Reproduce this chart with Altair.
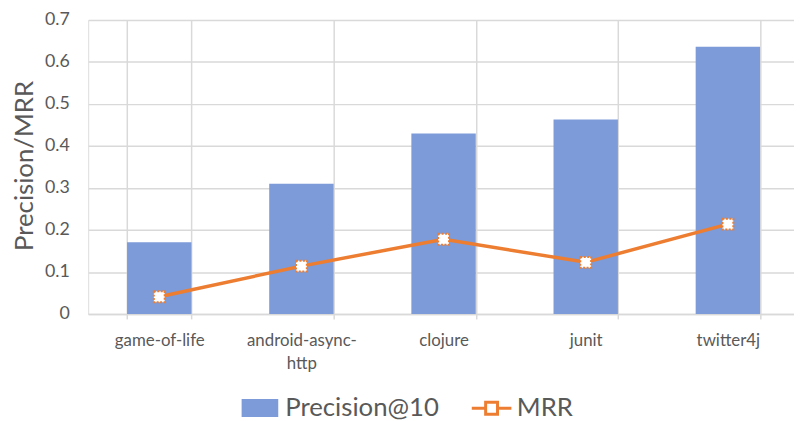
import altair as alt
import pandas as pd

projects = ["game-of-life", "android-async-http", "clojure", "junit", "twitter4j"]
precision = [0.171, 0.310, 0.430, 0.463, 0.636]
mrr = [0.041, 0.114, 0.178, 0.123, 0.214]
series_names = ["Precision@10", "MRR"]
y_ticks = [0, 0.1, 0.2, 0.3, 0.4, 0.5, 0.6, 0.7]

BLUE = "#7c9bd8"
ORANGE = "#ED7D31"
GRID = "#d9d9d9"
TEXT = "#595959"
FONT = "Lato"

bars_df = pd.DataFrame({"project": projects, "val": precision})
mrr_df = pd.DataFrame({"project": projects, "val": mrr})
legend_df = pd.DataFrame({"project": projects[:2], "val": [None, None], "series": series_names})

x_enc = alt.X(
    "project:N",
    sort=projects,
    scale=alt.Scale(range=[0, 718], paddingInner=0.547, paddingOuter=0.2735),
    axis=alt.Axis(
        title=None,
        labelAngle=0,
        tickBand="extent",
        grid=True,
        gridColor=GRID,
        gridWidth=1.5,
        domainColor=GRID,
        domainWidth=1.5,
        tickColor=GRID,
        tickWidth=1.5,
        tickSize=5,
        labelFontSize=17,
        labelColor=TEXT,
        labelFont=FONT,
        labelPadding=14,
        labelLineHeight=23,
        labelExpr="datum.value == 'android-async-http' ? ['android-async-', 'http'] : datum.label",
    ),
)

y_enc = alt.Y(
    "val:Q",
    scale=alt.Scale(domain=[0, 0.7], nice=False),
    axis=alt.Axis(
        values=y_ticks,
        format=".1~f",
        ticks=False,
        domain=False,
        grid=True,
        gridColor=GRID,
        gridWidth=1.5,
        labelFontSize=18,
        labelColor=TEXT,
        labelFont=FONT,
        labelPadding=19,
        title="Precision/MRR",
        titleFont=FONT,
        titleFontSize=26,
        titleFontWeight="normal",
        titleColor=TEXT,
        titleAngle=270,
        titleAlign="center",
        titleBaseline="alphabetic",
        titleX=-56,
        titleY=147,
    ),
)

bars = alt.Chart(bars_df).mark_bar(color=BLUE).encode(x=x_enc, y=y_enc)

line = alt.Chart(mrr_df).mark_line(color=ORANGE, strokeWidth=3.5).encode(
    x=alt.X("project:N", sort=projects), y="val:Q"
)

points = alt.Chart(mrr_df).mark_point(
    shape="square", size=120, filled=True, fill="white", stroke=ORANGE,
    strokeWidth=2, strokeDash=[2, 1.5], opacity=1
).encode(x=alt.X("project:N", sort=projects), y="val:Q")

leg = alt.Legend(
    title=None,
    orient="none",
    direction="horizontal",
    legendX=152,
    legendY=370,
    padding=0,
    symbolSize=1600,
    symbolStrokeWidth=3,
    labelFontSize=26,
    labelColor=TEXT,
    labelFont=FONT,
    labelOffset=4,
    columnPadding=26,
)

legend_layer = alt.Chart(legend_df).mark_point(filled=True, opacity=1).encode(
    x=alt.X("project:N", sort=projects),
    y="val:Q",
    fill=alt.Fill("series:N", scale=alt.Scale(domain=series_names, range=[BLUE, "white"]), legend=leg),
    stroke=alt.Stroke("series:N", scale=alt.Scale(domain=series_names, range=[BLUE, ORANGE]), legend=leg),
    shape=alt.Shape(
        "series:N",
        scale=alt.Scale(
            domain=series_names,
            range=[
                "M-0.85,-0.38H0.85V0.38H-0.85Z",
                "M-1,0H-0.3M0.3,0H1M-0.3,-0.3H0.3V0.3H-0.3Z",
            ],
        ),
        legend=leg,
    ),
)

chart = (
    alt.layer(bars, line, points, legend_layer)
    .properties(
        width=713,
        height=297,
        autosize=alt.AutoSizeParams(type="none"),
        padding={"left": 81, "top": 10, "right": 0, "bottom": 106},
    )
    .configure_view(fill="#efefef", stroke=None)
    .configure(font=FONT)
)

chart.save("out.html", embed_options={"renderer": "svg", "actions": False})
